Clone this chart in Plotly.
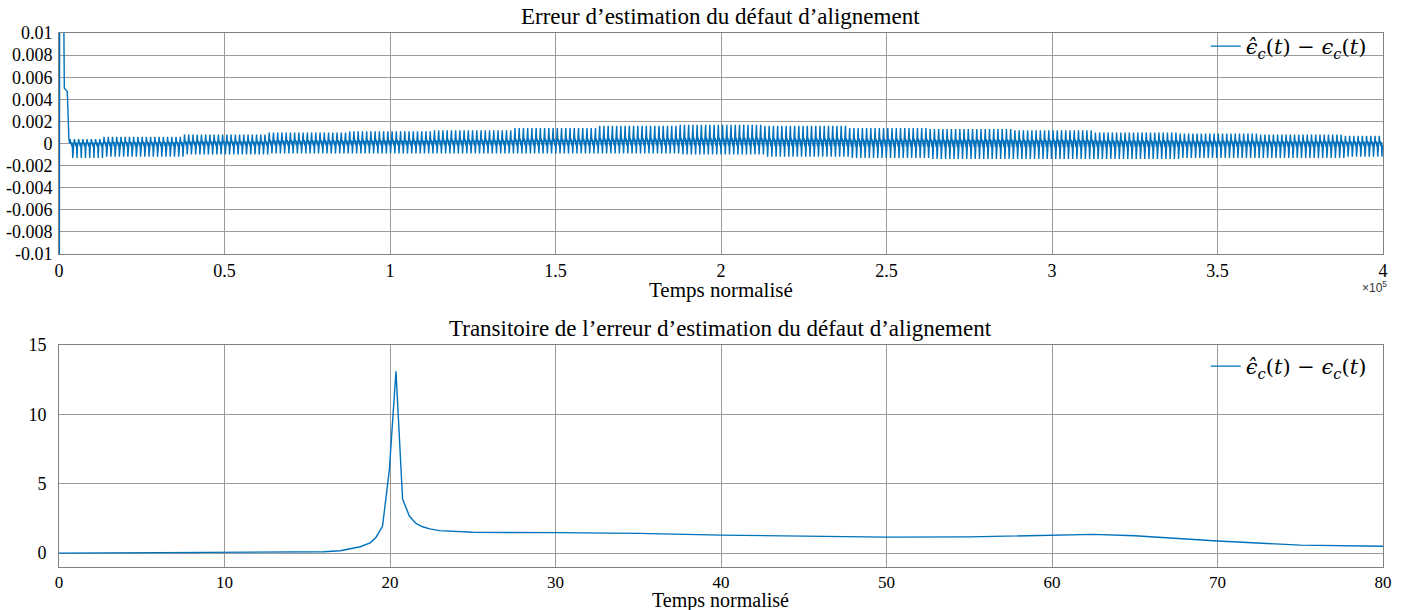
import numpy as np
import plotly.graph_objects as go

# ---------------- data ----------------
# Long run: start-up transient of the misalignment estimation error
start_t = [0, 300, 1250, 1600, 2500, 2800, 3000]
start_err = [-0.05, 0.05, 0.02, 0.005, 0.0047, 0.0008, 0.0004]

# Envelope of the steady oscillation (time in units of 1e5, error in units of 1e-3)
env_t = [0.0, 0.25, 0.5, 0.75, 1.0, 1.25, 1.5, 1.75, 2.0, 2.25, 2.5, 2.75, 3.0, 3.25, 3.5, 3.75, 4.0]
env_hi = [0.4, 0.6, 0.8, 1.0, 1.1, 1.2, 1.4, 1.6, 1.7, 1.6, 1.4, 1.3, 1.2, 1.0, 0.9, 0.8, 0.7]
env_lo = [-1.3, -1.2, -1.0, -0.9, -0.9, -0.9, -0.9, -0.9, -1.0, -1.2, -1.3, -1.4, -1.4, -1.4, -1.3, -1.3, -1.2]

# Shape of one oscillation period (positive part scales with env_hi, negative with env_lo)
cycle_shape = [0.0, 1.0, 0.1, 0.3, -0.2, 0.2, -1.0, -0.1]
n_cycles = 310

# Transient zoom on the first instants
tr_t = [0, 4, 8, 10, 12, 14, 15, 16, 17, 17.6, 18.2, 18.8, 19.15, 19.55, 19.96, 20.36,
        20.76, 21.17, 21.57, 21.97, 22.4, 23.0, 24.0, 25, 30, 35, 40, 45, 50, 55, 60,
        62.5, 65, 70, 75, 78, 80]
tr_err = [0, 0.02, 0.03, 0.03, 0.03, 0.05, 0.07, 0.1, 0.17, 0.3, 0.46, 0.74, 1.13, 1.95, 6.0, 13.1,
          3.9, 2.67, 2.14, 1.9, 1.75, 1.62, 1.55, 1.5, 1.48, 1.42, 1.3, 1.2, 1.15, 1.17, 1.28,
          1.35, 1.25, 0.87, 0.58, 0.5, 0.5]

x_ticks_top = [0, 0.5e5, 1e5, 1.5e5, 2e5, 2.5e5, 3e5, 3.5e5, 4e5]
x_ticktext_top = ["0", "0.5", "1", "1.5", "2", "2.5", "3", "3.5", "4"]
x_ticks_bottom = [0, 10, 20, 30, 40, 50, 60, 70, 80]
y_ticks_top = [-0.01, -0.008, -0.006, -0.004, -0.002, 0, 0.002, 0.004, 0.006, 0.008, 0.01]
y_ticktext_top = ["-0.01", "-0.008", "-0.006", "-0.004", "-0.002", "0",
                  "0.002", "0.004", "0.006", "0.008", "0.01"]
y_ticks_bottom = [0, 5, 10, 15]

# ---------------- build long-run series ----------------
t_start_osc = 3200.0
period = (4e5 - t_start_osc) / n_cycles
dt = period / len(cycle_shape)
env_t_abs = np.array(env_t) * 1e5
osc_t, osc_v = [], []
for k in range(n_cycles):
    t0 = t_start_osc + k * period
    idx = int(np.argmin(np.abs(env_t_abs - t0)))
    hi, lo = env_hi[idx] * 1e-3, abs(env_lo[idx]) * 1e-3
    for j, s in enumerate(cycle_shape):
        osc_t.append(t0 + j * dt)
        osc_v.append(s * hi if s >= 0 else s * lo)

long_t = list(start_t) + osc_t
long_v = list(start_err) + osc_v

# ---------------- figure ----------------
BLUE = "#0072BD"
GRID = "#9a9a9a"
SERIF = "Liberation Serif"
legend_label = "<i>ϵ̂</i><sub><i>c</i></sub>(<i>t</i>) − <i>ϵ</i><sub><i>c</i></sub>(<i>t</i>)"

fig = go.Figure()
fig.add_trace(go.Scatter(x=long_t, y=long_v, mode="lines", name=legend_label,
                         line=dict(color=BLUE, width=1.4), xaxis="x", yaxis="y",
                         legend="legend", showlegend=True))
fig.add_trace(go.Scatter(x=tr_t, y=tr_err, mode="lines", name=legend_label,
                         line=dict(color=BLUE, width=1.4), xaxis="x2", yaxis="y2",
                         legend="legend2", showlegend=True))

W, H = 1405, 610
x0, x1 = 59 / W, 1383 / W
top_dom = [1 - 254 / H, 1 - 33 / H]
bot_dom = [1 - 567 / H, 1 - 345 / H]

axis_common = dict(showline=True, mirror=True, linecolor="#808080", linewidth=1,
                   showgrid=True, gridcolor=GRID, gridwidth=1, zeroline=False,
                   automargin=False, ticks="")

tick_font = dict(family=SERIF, size=18, color="black")
legend_font = dict(family="DejaVu Serif", size=21, color="black")
title_font = dict(family=SERIF, size=23, color="black")
label_font = dict(family=SERIF, size=21, color="black")


def paper_text(text, px, py, font, xanchor="center"):
    return dict(text=text, x=px / W, y=1 - py / H, xref="paper", yref="paper",
                showarrow=False, xanchor=xanchor, yanchor="middle", font=font)


fig.update_layout(
    width=W, height=H,
    margin=dict(l=0, r=0, t=0, b=0, autoexpand=False),
    paper_bgcolor="white", plot_bgcolor="white",
    showlegend=True,
    xaxis=dict(domain=[x0, x1], range=[0, 4e5], anchor="y",
               tickvals=x_ticks_top, ticktext=x_ticktext_top,
               ticklabelstandoff=0, tickfont=tick_font, **axis_common),
    yaxis=dict(domain=top_dom, range=[-0.01, 0.01], anchor="x",
               tickvals=y_ticks_top, ticktext=y_ticktext_top, ticklabelstandoff=2,
               tickfont=tick_font, **axis_common),
    xaxis2=dict(domain=[x0, x1], range=[0, 80], anchor="y2",
                tickvals=x_ticks_bottom, ticklabelstandoff=0,
                tickfont=dict(family=SERIF, size=17, color="black"), **axis_common),
    yaxis2=dict(domain=bot_dom, range=[-1, 15], anchor="x2",
                tickvals=y_ticks_bottom, ticklabelstandoff=8,
                tickfont=tick_font, **axis_common),
    legend=dict(x=x1 - 0.008, y=1 - 26 / H, xanchor="right", yanchor="top",
                bgcolor="rgba(0,0,0,0)", borderwidth=0, font=legend_font),
    legend2=dict(x=x1 - 0.008, y=1 - 346 / H, xanchor="right", yanchor="top",
                 bgcolor="rgba(0,0,0,0)", borderwidth=0, font=legend_font),
    annotations=[
        paper_text("Erreur d’estimation du défaut d’alignement", (59 + 1383) / 2, 17, title_font),
        paper_text("Transitoire de l’erreur d’estimation du défaut d’alignement",
                   (59 + 1383) / 2, 328, title_font),
        paper_text("Temps normalisé", (59 + 1383) / 2, 290, label_font),
        paper_text("Temps normalisé", (59 + 1383) / 2, 600,
                   dict(family=SERIF, size=20, color="black")),
        paper_text("×10<sup>5</sup>", 1374, 287,
                   dict(family="Liberation Sans", size=12, color="#333333")),
    ],
)

fig.write_html("out.html")
